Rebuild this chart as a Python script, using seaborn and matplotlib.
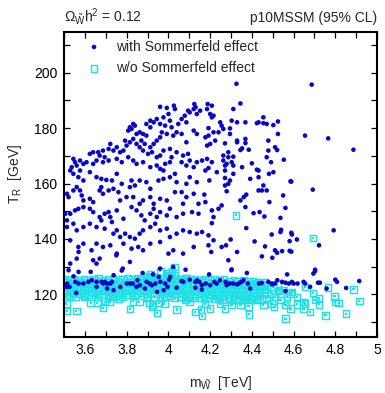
import matplotlib
matplotlib.use("Agg")
import matplotlib.pyplot as plt
from matplotlib.ticker import MultipleLocator, FuncFormatter
import seaborn as sns
import pandas as pd

# ---------------- data (m_wino [TeV], T_R [GeV]) ----------------
# with Sommerfeld effect: upper cloud
blue_upper = [
    (4.326, 196.0), (4.687, 195.7),
    (3.960, 187.7), (3.992, 187.3), (4.026, 188.1), (4.031, 186.9), (4.124, 188.7), (4.130, 187.5),
    (4.000, 185.1), (3.976, 183.9), (3.944, 183.3), (3.929, 182.1), (3.913, 180.3), (3.894, 181.5),
    (3.913, 182.7), (3.960, 181.5), (3.984, 180.9), (4.007, 182.7), (4.015, 180.3), (4.047, 181.5),
    (4.063, 183.3), (4.078, 184.5), (4.086, 182.1), (4.102, 185.7), (4.094, 186.3), (4.136, 185.1),
    (4.121, 186.9), (4.152, 186.3),
    (3.831, 181.5), (3.815, 180.3), (3.807, 179.1), (3.823, 179.7), (3.839, 180.9), (3.847, 177.9),
    (3.862, 178.5), (3.878, 177.9), (3.894, 177.3), (3.870, 175.5), (3.886, 174.3), (3.913, 173.1),
    (3.929, 174.3), (3.944, 175.5), (3.960, 176.7), (3.968, 178.5), (3.992, 177.9), (4.023, 177.3),
    (4.039, 178.5), (4.063, 177.9), (4.086, 174.9), (4.121, 179.1), (4.136, 177.9),
    (3.721, 174.3), (3.713, 172.5), (3.736, 171.9), (3.752, 173.1), (3.768, 171.3), (3.784, 171.9),
    (3.799, 173.7), (3.792, 175.5), (3.815, 174.9), (3.831, 176.1), (3.847, 174.3), (3.862, 173.1),
    (3.878, 171.9), (3.902, 170.7), (3.921, 171.3), (3.944, 169.5), (3.960, 170.1), (3.976, 171.9),
    (4.007, 172.5), (4.015, 169.5), (4.039, 171.3), (4.070, 170.1), (4.094, 170.7), (4.102, 168.3),
    (4.136, 167.7),
    (3.623, 170.7), (3.639, 171.3), (3.663, 171.3), (3.670, 170.1), (3.686, 171.9), (3.694, 169.5),
    (3.655, 168.3), (3.639, 167.1), (3.686, 167.7), (3.713, 168.3), (3.752, 168.9), (3.776, 167.7),
    (3.807, 169.5), (3.831, 168.3), (3.847, 167.1), (3.878, 167.7), (3.913, 165.9), (3.944, 166.5),
    (3.960, 165.3), (3.976, 164.7), (3.984, 167.1), (4.007, 167.7), (4.031, 163.5), (4.063, 167.7),
    (4.086, 166.5), (4.121, 165.9),
    (3.544, 168.9), (3.552, 167.7), (3.576, 168.3), (3.560, 166.5), (3.536, 165.9), (3.529, 164.7),
    (3.592, 167.1), (3.607, 167.7), (3.576, 164.7), (3.544, 163.5), (3.568, 162.3), (3.592, 161.1),
    (3.623, 164.1), (3.655, 162.3), (3.678, 161.7), (3.702, 161.3), (3.729, 161.1), (3.752, 163.5),
    (3.776, 159.9), (3.823, 161.1), (3.839, 159.3), (3.862, 161.1), (3.894, 160.5), (3.913, 158.1),
    (3.952, 161.1), (3.976, 161.7), (4.007, 162.3), (4.039, 160.5), (4.063, 156.9), (4.086, 159.9),
    (4.102, 162.3), (4.136, 160.5),
    (3.513, 156.3), (3.521, 155.1), (3.544, 157.5), (3.560, 158.7), (3.576, 157.5), (3.584, 155.7),
    (3.592, 153.9), (3.623, 154.5), (3.639, 153.3), (3.670, 157.5), (3.678, 158.7), (3.686, 156.3),
    (3.713, 157.5), (3.736, 158.1), (3.760, 156.9), (3.768, 153.9), (3.799, 155.1), (3.815, 158.7),
    (3.831, 155.1), (3.862, 152.7), (3.878, 153.9), (3.913, 155.1), (3.929, 152.7), (3.960, 154.5),
    (3.992, 153.9), (4.031, 156.9), (4.070, 152.7), (4.086, 155.1), (4.121, 156.3), (4.144, 152.7),
    (3.505, 149.1), (3.513, 146.7), (3.529, 149.1), (3.552, 150.3), (3.568, 150.9), (3.592, 151.5),
    (3.623, 150.9), (3.639, 149.7), (3.670, 147.9), (3.678, 146.7), (3.694, 149.1), (3.713, 149.7),
    (3.721, 147.9), (3.729, 146.1), (3.752, 150.3), (3.784, 147.3), (3.823, 151.5), (3.847, 150.3),
    (3.870, 148.5), (3.886, 146.7), (3.913, 149.1), (3.929, 150.9), (3.944, 147.9), (3.960, 149.7),
    (3.992, 148.5), (4.007, 150.9), (4.039, 147.9), (4.070, 149.1), (4.113, 149.7), (4.144, 149.1),
    (3.513, 144.3), (3.544, 145.5), (3.560, 143.1), (3.592, 144.3), (3.623, 145.5), (3.655, 144.3),
    (3.694, 143.7), (3.736, 141.9), (3.752, 143.1), (3.768, 140.7), (3.792, 141.9), (3.815, 140.7),
    (3.839, 140.1), (3.862, 141.9), (3.878, 143.1), (3.913, 144.3), (3.936, 145.5), (3.960, 143.1),
    (3.992, 143.7), (4.007, 140.7), (4.039, 141.9), (4.070, 143.1), (4.102, 142.5), (4.136, 141.9),
    (3.529, 139.5), (3.568, 137.1), (3.592, 138.3), (3.631, 135.9), (3.655, 138.3), (3.686, 137.1),
    (3.721, 137.7), (3.752, 134.7), (3.784, 138.3), (3.823, 136.5), (3.855, 137.1), (3.878, 135.9),
    (3.913, 138.3), (3.960, 138.9), (4.000, 134.7), (4.023, 135.9), (4.070, 134.7), (4.121, 137.1),
    (3.529, 131.1), (3.560, 132.9), (3.639, 132.3), (3.655, 131.1), (3.670, 132.9), (3.776, 128.6),
    (3.815, 131.7), (3.960, 129.3), (4.023, 129.9), (3.750, 134.1), (3.569, 135.3),
    (4.188, 188.7), (4.208, 188.1), (4.185, 186.9), (4.311, 186.9), (4.345, 188.9), (4.200, 185.1),
    (4.216, 184.5), (4.208, 183.9), (4.248, 182.1), (4.255, 180.9), (4.303, 182.7), (4.329, 182.1),
    (4.369, 182.1), (4.424, 181.8), (4.432, 182.1), (4.455, 183.9), (4.455, 181.8), (4.471, 181.5),
    (4.503, 181.1), (4.525, 182.4), (4.525, 177.9), (4.655, 177.3), (4.766, 176.3), (4.887, 172.2),
    (4.192, 180.0), (4.177, 176.7), (4.192, 177.3), (4.216, 178.5), (4.240, 178.5), (4.263, 179.7),
    (4.295, 179.9), (4.295, 177.9), (4.329, 175.5), (4.329, 174.9), (4.369, 176.1), (4.369, 174.6),
    (4.185, 173.7), (4.200, 174.3), (4.224, 175.5), (4.271, 174.5), (4.345, 172.1), (4.353, 172.7),
    (4.385, 172.2), (4.479, 175.5), (4.479, 171.9), (4.511, 173.1), (4.521, 172.1),
    (4.161, 168.3), (4.185, 168.9), (4.208, 167.7), (4.177, 164.7), (4.192, 165.6), (4.232, 164.1),
    (4.263, 170.1), (4.263, 168.3), (4.287, 171.3), (4.287, 169.5), (4.311, 169.7), (4.279, 167.1),
    (4.303, 167.7), (4.311, 166.5), (4.271, 166.5), (4.271, 164.7), (4.271, 162.0), (4.311, 163.5),
    (4.353, 165.9), (4.400, 167.3), (4.424, 165.0), (4.432, 164.7), (4.432, 162.3), (4.392, 161.7),
    (4.471, 169.5), (4.492, 167.7), (4.503, 164.1), (4.482, 163.5), (4.553, 168.6), (4.589, 160.7),
    (4.692, 157.8),
    (4.196, 161.1), (4.172, 156.0), (4.177, 153.3), (4.208, 150.3), (4.216, 147.9), (4.208, 145.7),
    (4.240, 150.9), (4.255, 152.1), (4.279, 157.2), (4.271, 159.3), (4.295, 161.1), (4.287, 159.9),
    (4.345, 153.9), (4.361, 155.1), (4.369, 151.5), (4.373, 156.0), (4.455, 159.3), (4.448, 157.5),
    (4.432, 157.5), (4.471, 157.5), (4.484, 153.3), (4.408, 149.3), (4.437, 149.7), (4.460, 148.1),
    (4.537, 147.6), (4.550, 155.7), (4.561, 151.2), (4.585, 160.8),
    (4.161, 142.5), (4.192, 141.3), (4.216, 139.5), (4.192, 137.7), (4.255, 137.1), (4.276, 137.7),
    (4.298, 139.8), (4.373, 143.9), (4.413, 139.1), (4.495, 141.6), (4.540, 143.3), (4.537, 142.5),
    (4.589, 142.2), (4.592, 141.6), (4.616, 139.8), (4.581, 139.2), (4.463, 137.3), (4.511, 135.9),
    (4.521, 135.0), (4.545, 135.6), (4.581, 135.7), (4.589, 135.4), (4.329, 135.3), (4.205, 135.3),
    (4.448, 133.7), (4.498, 133.2), (4.287, 132.3), (4.303, 129.0), (4.703, 128.9), (4.722, 137.7),
    (4.792, 143.1),
]

# with Sommerfeld effect: points in the low band
blue_band = [
    (3.521, 128.7), (3.545, 126.5), (3.569, 128.1), (3.569, 123.9), (3.514, 123.9), (3.526, 122.7),
    (3.558, 120.5), (3.627, 128.1), (3.632, 125.1), (3.655, 124.5), (3.679, 124.5), (3.687, 123.9),
    (3.695, 124.5), (3.706, 123.9), (3.721, 123.9), (3.729, 124.5), (3.737, 126.9), (3.781, 129.3),
    (3.800, 123.9), (3.816, 123.9), (3.829, 123.9), (3.851, 125.1), (3.863, 123.3), (3.876, 127.7),
    (3.895, 124.5), (3.910, 123.9), (3.921, 123.3), (3.937, 123.9), (3.953, 126.3), (3.961, 124.5),
    (3.977, 121.5), (3.984, 123.9), (3.996, 122.7), (3.926, 127.2), (3.510, 122.7), (3.553, 124.5),
    (3.592, 123.9), (3.616, 124.5), (3.706, 122.1), (3.655, 122.7), (3.737, 121.5), (3.769, 122.7),
    (3.847, 122.7), (3.945, 120.9), (3.887, 122.1),
    (4.082, 128.9), (4.195, 127.2), (4.302, 128.7), (4.376, 127.7), (4.003, 125.3), (4.008, 126.3),
    (4.063, 124.8), (4.071, 124.5), (4.102, 125.3), (4.129, 124.5), (4.137, 125.1), (4.148, 124.5),
    (4.160, 123.3), (4.129, 122.4), (4.039, 122.4), (4.160, 121.7), (4.179, 123.9), (4.200, 123.3),
    (4.220, 124.5), (4.231, 123.9), (4.247, 125.1), (4.274, 124.5), (4.279, 123.3), (4.294, 123.9),
    (4.310, 123.9), (4.329, 123.6), (4.337, 123.9), (4.349, 124.5), (4.360, 125.1), (4.381, 123.9),
    (4.392, 122.1), (4.434, 123.9), (4.447, 124.1), (4.479, 124.5), (4.497, 123.6), (4.510, 123.9),
    (4.569, 127.2), (4.522, 125.1), (4.495, 123.9), (4.545, 124.5), (4.561, 124.2), (4.577, 123.9),
    (4.592, 124.5), (4.600, 123.9), (4.619, 123.9), (4.648, 124.5), (4.655, 123.9), (4.679, 122.7),
    (4.695, 127.5), (4.703, 128.4), (4.717, 124.2), (4.726, 124.2), (4.758, 122.1), (4.800, 125.3),
    (4.808, 124.5), (4.852, 122.3), (4.915, 124.8), (4.561, 121.2),
]

# without Sommerfeld effect: dense band
cyan_band = [
    (3.502, 125.4), (3.525, 125.1), (3.548, 125.6), (3.571, 125.2), (3.594, 125.5), (3.618, 125.0),
    (3.641, 125.4), (3.664, 125.7), (3.687, 125.2), (3.710, 125.5), (3.733, 125.1), (3.757, 125.6),
    (3.780, 125.3), (3.803, 125.8), (3.826, 125.4), (3.850, 125.9), (3.873, 125.5), (3.896, 126.1),
    (3.919, 125.7), (3.942, 126.3), (3.966, 125.8), (3.989, 126.0), (4.012, 125.6), (4.035, 125.9),
    (4.058, 125.4), (4.082, 125.7), (4.105, 125.3), (4.128, 125.6), (4.151, 125.2), (4.174, 125.5),
    (4.198, 125.1), (4.221, 125.4), (4.244, 125.0), (4.267, 125.3), (4.290, 124.9), (4.314, 125.2),
    (4.337, 124.8), (4.360, 125.1), (4.383, 124.6), (4.406, 124.9), (4.430, 124.5),
    (3.510, 124.2), (3.536, 123.8), (3.559, 124.3), (3.582, 123.9), (3.606, 124.1), (3.629, 123.7),
    (3.652, 124.2), (3.676, 123.9), (3.699, 124.3), (3.722, 123.8), (3.745, 124.1), (3.768, 124.4),
    (3.792, 123.9), (3.815, 124.2), (3.838, 124.6), (3.861, 124.0), (3.885, 124.5), (3.908, 124.8),
    (3.931, 124.2), (3.954, 124.6), (3.978, 124.9), (4.001, 124.4), (4.024, 124.7), (4.047, 124.2),
    (4.070, 124.5), (4.094, 124.0), (4.117, 124.3), (4.140, 123.9), (4.163, 124.2), (4.186, 123.7),
    (4.210, 124.0), (4.233, 123.6), (4.256, 123.9), (4.279, 123.5), (4.302, 123.8), (4.326, 123.4),
    (4.349, 123.7), (4.372, 123.3), (4.395, 123.6), (4.418, 123.2), (4.441, 123.5), (4.460, 122.9),
    (3.504, 122.9), (3.527, 122.5), (3.551, 123.0), (3.574, 122.6), (3.597, 122.8), (3.620, 122.4),
    (3.643, 122.9), (3.667, 122.5), (3.690, 122.7), (3.713, 122.3), (3.736, 122.8), (3.760, 122.4),
    (3.783, 122.9), (3.806, 122.6), (3.829, 123.1), (3.852, 122.7), (3.876, 123.2), (3.899, 122.8),
    (3.922, 123.3), (3.945, 122.9), (3.969, 123.4), (3.992, 123.0), (4.015, 123.2), (4.038, 122.8),
    (4.061, 123.1), (4.085, 122.6), (4.108, 122.9), (4.131, 122.5), (4.154, 122.8), (4.177, 122.3),
    (4.201, 122.6), (4.224, 122.2), (4.247, 122.5), (4.270, 122.1), (4.293, 122.4), (4.317, 122.0),
    (4.340, 122.3), (4.363, 121.9), (4.386, 122.2), (4.409, 121.8), (4.433, 122.1), (4.456, 121.6),
    (4.470, 122.0),
    (3.512, 121.6), (3.535, 121.2), (3.558, 121.7), (3.581, 121.3), (3.604, 121.5), (3.628, 121.1),
    (3.651, 121.6), (3.674, 121.2), (3.697, 121.4), (3.721, 121.0), (3.744, 121.5), (3.767, 121.1),
    (3.790, 121.6), (3.813, 121.3), (3.837, 121.7), (3.860, 121.4), (3.883, 121.8), (3.906, 121.5),
    (3.930, 121.9), (3.953, 121.6), (3.976, 122.0), (3.999, 121.7), (4.022, 121.9), (4.046, 121.5),
    (4.069, 121.8), (4.092, 121.3), (4.115, 121.6), (4.139, 121.2), (4.162, 121.4), (4.185, 121.0),
    (4.208, 121.3), (4.231, 120.9), (4.255, 121.2), (4.278, 120.8), (4.301, 121.1), (4.324, 120.7),
    (4.348, 121.0), (4.371, 120.6), (4.394, 120.9), (4.417, 120.5), (4.440, 120.8), (4.462, 120.4),
    (3.500, 120.4), (3.523, 120.0), (3.546, 120.5), (3.570, 120.1), (3.593, 120.3), (3.616, 119.9),
    (3.639, 120.4), (3.662, 120.0), (3.686, 120.2), (3.709, 119.8), (3.732, 120.3), (3.755, 119.9),
    (3.779, 120.4), (3.802, 120.0), (3.825, 120.5), (3.848, 120.1), (3.871, 120.6), (3.895, 120.2),
    (3.918, 120.7), (3.941, 120.3), (3.964, 120.8), (3.988, 120.4), (4.011, 120.6), (4.034, 120.2),
    (4.057, 120.5), (4.081, 120.0), (4.104, 120.3), (4.127, 119.9), (4.150, 120.2), (4.173, 119.7),
    (4.197, 120.0), (4.220, 119.6), (4.243, 119.9), (4.266, 119.5), (4.289, 119.8), (4.313, 119.4),
    (4.336, 119.7), (4.359, 119.3), (4.382, 119.6), (4.405, 119.2), (4.428, 119.5),
    (3.960, 119.2), (3.985, 119.0), (4.010, 119.4), (4.030, 118.8), (4.055, 119.1), (4.080, 118.6),
    (4.100, 119.0), (4.125, 118.7), (4.150, 118.9), (4.170, 118.4), (4.195, 118.8), (4.220, 118.3),
    (4.240, 118.7), (4.265, 118.2), (4.285, 118.6), (4.310, 118.1), (4.335, 118.5), (4.355, 118.0),
    (4.380, 118.4), (4.400, 117.9), (4.425, 118.3), (4.445, 118.0), (4.470, 118.6),
    (3.530, 119.3), (3.600, 119.4), (3.660, 119.2), (3.720, 119.3), (3.780, 119.1), (3.840, 119.4),
    (3.900, 119.2),
]

# without Sommerfeld effect: scattered points
cyan_scatter = [
    (3.514, 119.1), (3.553, 119.3), (3.595, 119.1), (3.627, 116.9), (3.659, 116.9), (3.687, 115.2),
    (3.695, 117.3), (3.718, 117.3), (3.737, 119.1), (3.761, 118.3), (3.816, 114.7), (3.829, 117.5),
    (3.860, 117.3), (3.898, 118.8), (3.910, 116.9), (3.921, 115.7), (3.926, 116.4), (3.945, 113.3),
    (3.953, 116.9), (3.969, 118.8), (3.980, 116.7), (3.514, 114.0), (3.558, 114.0), (3.510, 116.7),
    (3.961, 128.3), (3.989, 127.7), (3.913, 127.2), (3.906, 126.5), (3.937, 125.1), (3.996, 126.9),
    (3.895, 125.3), (3.866, 125.5),
    (4.028, 129.9), (4.016, 128.4), (4.000, 127.7), (4.031, 126.9), (4.086, 125.7), (4.419, 123.9),
    (4.463, 124.5),
    (4.039, 114.5), (4.129, 113.6), (4.160, 112.1), (4.157, 114.5), (4.200, 114.9), (4.271, 114.9),
    (4.302, 116.1), (4.345, 116.1), (4.384, 115.7), (4.387, 112.8), (4.455, 116.1), (4.079, 117.9),
    (4.102, 117.3), (4.176, 116.7), (4.247, 116.7), (4.321, 117.9), (4.368, 118.1), (4.423, 117.9),
    (4.494, 116.7),
    (4.522, 123.6), (4.503, 122.7), (4.529, 121.5), (4.495, 120.3), (4.511, 119.1), (4.537, 120.3),
    (4.553, 121.5), (4.569, 119.1), (4.585, 120.3), (4.592, 120.9), (4.616, 119.1), (4.616, 116.4),
    (4.561, 116.1), (4.585, 114.9), (4.648, 117.3), (4.655, 116.7), (4.648, 114.9), (4.679, 113.6),
    (4.692, 120.5), (4.703, 117.9), (4.722, 118.5), (4.722, 116.4), (4.753, 112.4), (4.764, 122.4),
    (4.796, 119.3), (4.800, 117.3), (4.816, 116.9), (4.852, 113.0), (4.887, 121.8), (4.915, 117.6),
    (4.561, 111.2), (4.506, 115.5), (4.537, 117.9), (4.655, 122.7),
    (4.325, 148.5), (4.692, 140.4),
]

label_with = "with Sommerfeld effect"
label_without = "w/o Sommerfeld effect"
x_ticks = [3.6, 3.8, 4.0, 4.2, 4.4, 4.6, 4.8, 5.0]
y_ticks = [120, 140, 160, 180, 200]

blue_df = pd.DataFrame(blue_upper + blue_band, columns=["m", "T"])
cyan_df = pd.DataFrame(cyan_band + cyan_scatter, columns=["m", "T"])

# ---------------- style ----------------
sns.set_style("ticks")
plt.rcParams["font.family"] = ["Liberation Sans", "DejaVu Sans"]
plt.rcParams["mathtext.fontset"] = "custom"
plt.rcParams["mathtext.rm"] = "Liberation Sans"
plt.rcParams["mathtext.it"] = "Liberation Sans:italic"
plt.rcParams["mathtext.bf"] = "Liberation Sans:bold"

BLUE = "#0808c8"
CYAN = "#1ee0e6"

fig = plt.figure(figsize=(3.85, 3.93), dpi=100)
W, H = 385, 393
ax = fig.add_axes([64.2 / W, 1 - 337 / H, (377 - 64.2) / W, (337 - 32) / H])

# open squares with a small centre dot (as in the gnuplot point type)
sns.scatterplot(data=cyan_df, x="m", y="T", ax=ax, marker="s", s=22,
                color="none", edgecolor=CYAN, linewidth=1.05,
                label=label_without, zorder=2)
sns.scatterplot(data=cyan_df, x="m", y="T", ax=ax, marker="s", s=2.5,
                color=CYAN, edgecolor="none", linewidth=0,
                legend=False, zorder=2)
sns.scatterplot(data=blue_df, x="m", y="T", ax=ax, marker="o", s=11,
                color=BLUE, edgecolor="none", linewidth=0,
                label=label_with, zorder=3)

ax.set_xlim(3.5, 5.0)
ax.set_ylim(104.6, 214.7)
ax.set_xticks(x_ticks)
ax.set_yticks(y_ticks)
ax.xaxis.set_minor_locator(MultipleLocator(0.1))
ax.yaxis.set_minor_locator(MultipleLocator(10))
ax.xaxis.set_major_formatter(FuncFormatter(lambda v, p: f"{v:g}"))
ax.tick_params(which="both", direction="in", top=True, right=True,
               length=4, width=0.9, colors="black", labelsize=10)
ax.tick_params(axis="y", pad=5)
ax.tick_params(axis="x", pad=4)
for sp in ax.spines.values():
    sp.set_linewidth(1.5)
    sp.set_color("black")
ax.set_xlabel("")
ax.set_ylabel("")

handles, labels = ax.get_legend_handles_labels()
order = [labels.index(label_with), labels.index(label_without)]
ax.legend([handles[i] for i in order], [labels[i] for i in order],
          loc="upper left", bbox_to_anchor=(0.073, 0.975), frameon=False,
          borderpad=0, borderaxespad=0, handlelength=1.0, handletextpad=1.1,
          labelspacing=0.55, markerscale=1.0, fontsize=10)

ax.text(0.0, 1.033, r"$\Omega_{\tilde{\mathrm{W}}}\mathrm{h}^2$ = 0.12",
        transform=ax.transAxes, ha="left", va="baseline", fontsize=10)
ax.text(1.0, 1.033, "p10MSSM (95% CL)", transform=ax.transAxes,
        ha="right", va="baseline", fontsize=10)

fig.text(220.5 / W, 1 - 387 / H, r"m$_{\tilde{\mathrm{W}}}$  [TeV]",
         ha="center", va="baseline", fontsize=10)
fig.text(15 / W, 1 - 174 / H, r"T$_{\mathrm{R}}$  [GeV]", rotation=90,
         ha="center", va="center", fontsize=10)

fig.savefig("out.png", dpi=100)
